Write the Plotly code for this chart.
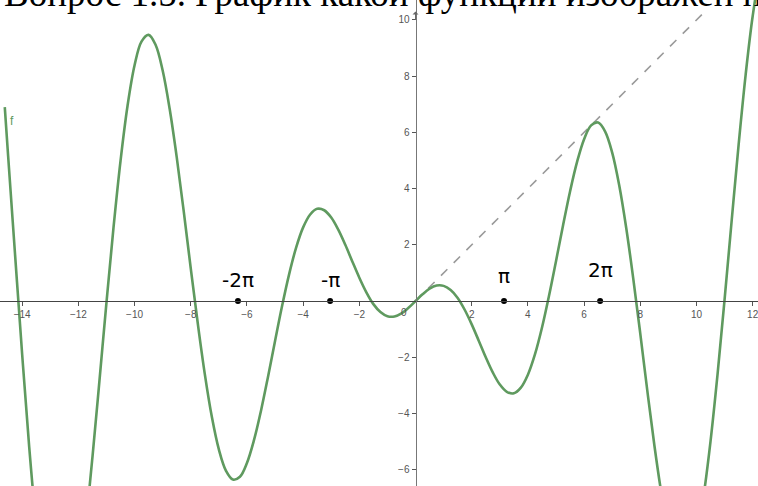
import plotly.graph_objects as go

# curve f (x step 0.25)
x_vals = [-14.62, -14.5, -14.25, -14.0, -13.75, -13.5, -13.25, -13.0, -12.75, -12.5,
          -12.25, -12.0, -11.75, -11.5, -11.25, -11.0, -10.75, -10.5, -10.25, -10.0,
          -9.75, -9.5, -9.25, -9.0, -8.75, -8.5, -8.25, -8.0, -7.75, -7.5,
          -7.25, -7.0, -6.75, -6.5, -6.25, -6.0, -5.75, -5.5, -5.25, -5.0,
          -4.75, -4.5, -4.25, -4.0, -3.75, -3.5, -3.25, -3.0, -2.75, -2.5,
          -2.25, -2.0, -1.75, -1.5, -1.25, -1.0, -0.75, -0.5, -0.25, 0.0,
          0.25, 0.5, 0.75, 1.0, 1.25, 1.5, 1.75, 2.0, 2.25, 2.5,
          2.75, 3.0, 3.25, 3.5, 3.75, 4.0, 4.25, 4.5, 4.75, 5.0,
          5.25, 5.5, 5.75, 6.0, 6.25, 6.5, 6.75, 7.0, 7.25, 7.5,
          7.75, 8.0, 8.25, 8.5, 8.75, 9.0, 9.25, 9.5, 9.75, 10.0,
          10.25, 10.5, 10.75, 11.0, 11.25, 11.5, 11.75, 12.0, 12.25, 12.5]
f_vals = [6.9, 5.15, 1.60, -1.91, -5.20, -8.02, -10.27, -11.80, -12.54, -12.47,
          -11.64, -10.13, -8.05, -5.56, -2.83, -0.05, 2.61, 4.99, 6.95, 8.39,
          9.24, 9.47, 9.11, 8.20, 6.83, 5.12, 3.19, 1.16, -0.80, -2.60,
          -4.12, -5.28, -6.03, -6.35, -6.25, -5.76, -4.95, -3.90, -2.69, -1.42,
          -0.18, 0.95, 1.90, 2.62, 3.08, 3.28, 3.23, 2.97, 2.54, 2.00,
          1.41, 0.83, 0.31, -0.11, -0.39, -0.54, -0.55, -0.44, -0.24, 0.0,
          0.24, 0.44, 0.55, 0.54, 0.39, 0.11, -0.31, -0.83, -1.41, -2.00,
          -2.54, -2.97, -3.23, -3.28, -3.08, -2.62, -1.90, -0.95, 0.18, 1.42,
          2.69, 3.90, 4.95, 5.76, 6.25, 6.35, 6.03, 5.28, 4.12, 2.60,
          0.80, -1.16, -3.19, -5.12, -6.83, -8.20, -9.11, -9.47, -9.24, -8.39,
          -6.95, -4.99, -2.61, 0.05, 2.83, 5.56, 8.05, 10.13, 11.64, 12.47]

# dashed line y = x
line_x = [0, 10.3]
line_y = [0, 10.3]

# hand-drawn marks on the x axis
mark_x = [-6.32, -3.04, 3.15, 6.57]
mark_text = ["-2π", "-π", "π", "2π"]
mark_label_y = [0.75, 0.75, 0.9, 1.1]

x_ticks = [-14, -12, -10, -8, -6, -4, -2, 2, 4, 6, 8, 10, 12]
y_ticks = [-6, -4, -2, 2, 4, 6, 8, 10]

x_range = [-14.79, 12.19]
y_range = [-6.58, 10.71]

fig = go.Figure()
fig.add_trace(go.Scatter(x=line_x, y=line_y, mode="lines",
                         line=dict(color="#9a9a9a", width=1.6, dash="dash")))
fig.add_trace(go.Scatter(x=x_vals, y=f_vals, mode="lines", line_shape="spline",
                         line=dict(color="#5f9a5f", width=2.6)))
fig.add_trace(go.Scatter(x=mark_x, y=[0] * 4, mode="markers",
                         marker=dict(color="black", size=6)))

for mx, mt, my in zip(mark_x, mark_text, mark_label_y):
    fig.add_annotation(x=mx, y=my, text=mt, showarrow=False,
                       font=dict(family="DejaVu Sans", size=20, color="black"))

fig.add_annotation(x=-0.4, y=-0.4, text="0", showarrow=False,
                   font=dict(family="Liberation Sans", size=10, color="#555"))
fig.add_annotation(x=-14.35, y=6.4, text="f", showarrow=False,
                   font=dict(family="Liberation Sans", size=12, color="#5f9a5f"))
# arrow tip of the y axis
fig.add_annotation(x=0, y=10.3, ax=0, ay=10, text="", showarrow=True,
                   arrowhead=1, arrowsize=1, arrowwidth=1, arrowcolor="#666")

fig.add_annotation(xref="paper", yref="paper", x=0.003, y=0.967,
                   xanchor="left", yanchor="bottom", showarrow=False,
                   text="Вопрос 1.5. График какой функции изображен на рисунке?",
                   font=dict(family="Liberation Serif", size=37, color="black"))

fig.update_layout(
    width=758, height=486,
    margin=dict(l=0, r=0, t=0, b=0),
    plot_bgcolor="white", paper_bgcolor="white",
    showlegend=False,
    xaxis=dict(range=x_range, showgrid=False, zeroline=False,
               anchor="free", position=6.58 / 17.29,
               showline=True, linecolor="#444", linewidth=1,
               tickvals=x_ticks, ticktext=[str(t).replace("-", "−") for t in x_ticks],
               ticks="outside", ticklen=4, tickcolor="#555",
               ticklabeloverflow="allow",
               tickfont=dict(family="Liberation Sans", size=10, color="#555")),
    yaxis=dict(range=y_range, showgrid=False, zeroline=False,
               anchor="free", position=14.79 / 26.98,
               showline=True, linecolor="#777", linewidth=1,
               tickvals=y_ticks, ticktext=[str(t).replace("-", "−") for t in y_ticks],
               ticks="outside", ticklen=4, tickcolor="#555",
               tickfont=dict(family="Liberation Sans", size=10, color="#555")),
)

fig.write_html("out.html", config={"displayModeBar": False},
               post_script="document.body.style.margin='0';")
